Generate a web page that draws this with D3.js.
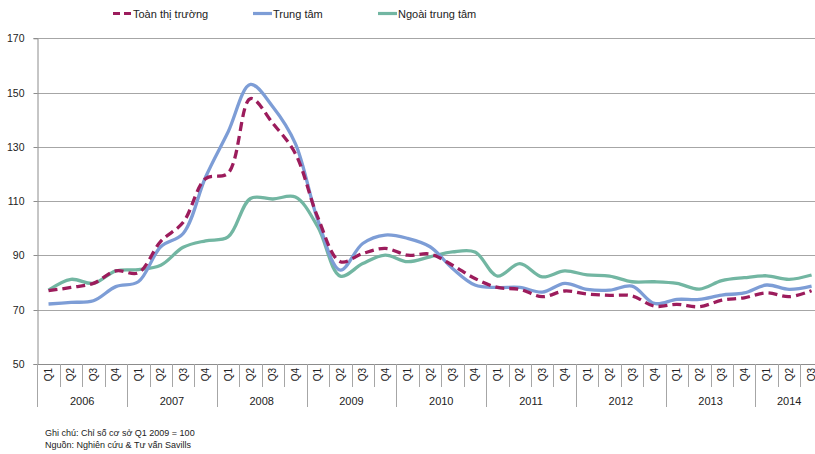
<!DOCTYPE html>
<html>
<head>
<meta charset="utf-8">
<script src="https://cdn.jsdelivr.net/npm/d3@7"></script>
<style>
  body { margin: 0; background: #fff; }
  text { font-family: "Liberation Sans", Arial, sans-serif; fill: #222; }
</style>
</head>
<body>
<svg width="815" height="454"></svg>
<script>
// years and quarters on the x axis
var years = ['2006', '2007', '2008', '2009', '2010', '2011', '2012', '2013', '2014'];
var quarters = ['Q1', 'Q2', 'Q3', 'Q4'];
var yTicks = [50, 70, 90, 110, 130, 150, 170];

// index values, Q1 2006 .. Q3 2014
var toanThiTruong = [77, 78.2, 79.7, 84.3, 83.6, 95.2, 102.2, 118.3, 120.3, 147.8, 138.6, 127.5,
  104, 87.7, 90.7, 92.6, 90.1, 90.5, 86.4, 81.5, 78.2, 77.5, 74.8, 76.9, 75.8, 75.3, 75.1,
  71.3, 72, 71.1, 73.5, 74.4, 76.2, 74.8, 77];
var trungTam = [72.1, 72.7, 73.3, 78.5, 80.3, 93.2, 98.1, 118.9, 135.5, 153, 144.7, 131.2,
  103, 84.6, 94.4, 97.5, 96.3, 93.2, 85.2, 79.1, 78.2, 78.2, 76.5, 79.7, 77.5, 77.2, 78.7,
  72.3, 73.8, 73.8, 75.4, 76.2, 79.1, 77.5, 78.7];
var ngoaiTrungTam = [77.2, 81.2, 79.7, 84.3, 84.8, 86.4, 93, 95.4, 96.8, 111, 110.8, 111.5,
  100.5, 82.4, 87, 90.1, 87.7, 89.5, 91.3, 91.3, 82.4, 87, 82.1, 84.3, 82.8, 82.4, 80.3,
  80.3, 79.7, 77.6, 80.7, 81.8, 82.5, 81.2, 82.8];

var seriesNames = ['Toàn thị trường', 'Trung tâm', 'Ngoài trung tâm'];
var seriesColors = ['#9c1c5c', '#7d9dd6', '#72b6a2'];

// build category keys
var keys = [];
years.forEach(function (y) {
  quarters.forEach(function (q) { keys.push(y + '-' + q); });
});
keys = keys.slice(0, toanThiTruong.length);

var plotLeft = 37.3, plotRight = 822.8, plotTop = 38.3, plotBottom = 364;
var svg = d3.select('svg');

var x = d3.scaleBand().domain(keys).range([plotLeft, plotRight]).padding(0);
var y = d3.scaleLinear().domain([50, 170]).range([plotBottom, plotTop]);

// gridlines
svg.append('g')
  .selectAll('line')
  .data(yTicks.slice(1))
  .enter()
  .append('line')
    .attr('x1', plotLeft)
    .attr('x2', plotRight)
    .attr('y1', d => Math.round(y(d)) + 0.5)
    .attr('y2', d => Math.round(y(d)) + 0.5)
    .attr('stroke', '#a6a6a6')
    .attr('stroke-width', 1);

// y axis
var yAxis = svg.append('g')
  .attr('transform', 'translate(' + (Math.round(plotLeft) + 0.5) + ',0)')
  .call(d3.axisLeft(y).tickValues(yTicks).tickSize(4).tickPadding(9));
yAxis.select('.domain').attr('stroke', '#8c8c8c');
yAxis.selectAll('.tick line').attr('stroke', '#8c8c8c');
yAxis.selectAll('text').attr('font-size', 10.5).style('font-family', '"Liberation Sans", Arial, sans-serif').attr('fill', '#222');
yAxis.selectAll('.tick').attr('transform', d => 'translate(0,' + (Math.round(y(d)) + 0.5) + ')');

// x axis baseline
svg.append('line')
  .attr('x1', plotLeft).attr('x2', plotRight)
  .attr('y1', Math.round(plotBottom) + 0.5).attr('y2', Math.round(plotBottom) + 0.5)
  .attr('stroke', '#8c8c8c');

// quarter separators and labels
var xg = svg.append('g');
xg.selectAll('.qsep')
  .data(keys)
  .enter()
  .append('line')
    .attr('x1', d => Math.round(x(d)) + 0.5)
    .attr('x2', d => Math.round(x(d)) + 0.5)
    .attr('y1', plotBottom)
    .attr('y2', d => d.endsWith('Q1') ? 407 : 387)
    .attr('stroke', '#a6a6a6');

xg.selectAll('.qlabel')
  .data(keys)
  .enter()
  .append('text')
    .attr('transform', d => 'translate(' + (x(d) + x.bandwidth() / 2 + 3.5) + ',368) rotate(-90)')
    .attr('text-anchor', 'end')
    .attr('font-size', 10)
    .text(d => d.split('-')[1]);

// year labels, centered over the quarters of each year
xg.selectAll('.ylabel')
  .data(years)
  .enter()
  .append('text')
    .attr('x', function (yr) {
      var ks = keys.filter(k => k.startsWith(yr));
      return (x(ks[0]) + x(ks[ks.length - 1]) + x.bandwidth()) / 2;
    })
    .attr('y', 405)
    .attr('text-anchor', 'middle')
    .attr('font-size', 11)
    .text(d => d);

// lines
var line = d3.line()
  .x((d, i) => x(keys[i]) + x.bandwidth() / 2)
  .y(d => y(d))
  .curve(d3.curveCatmullRom.alpha(0.5));

var allSeries = [toanThiTruong, trungTam, ngoaiTrungTam];
// draw green and blue first, dashed series on top
[2, 1, 0].forEach(function (s) {
  svg.append('path')
    .attr('d', line(allSeries[s]))
    .attr('fill', 'none')
    .attr('stroke', seriesColors[s])
    .attr('stroke-width', 3.3)
    .attr('stroke-linejoin', 'round')
    .attr('stroke-dasharray', s === 0 ? '9,5' : null);
});

// legend
var legendX = [113, 253, 378];
var legend = svg.append('g');
seriesNames.forEach(function (name, s) {
  legend.append('line')
    .attr('x1', legendX[s]).attr('x2', legendX[s] + 19)
    .attr('y1', 13.5).attr('y2', 13.5)
    .attr('stroke', seriesColors[s])
    .attr('stroke-width', 3.2)
    .attr('stroke-dasharray', s === 0 ? '7,4' : null);
  legend.append('text')
    .attr('x', legendX[s] + 20)
    .attr('y', 17.5)
    .attr('font-size', 11)
    .text(name);
});

// notes
svg.append('text').attr('x', 45).attr('y', 436).attr('font-size', 9)
  .text('Ghi chú: Chỉ số cơ sở Q1 2009 = 100');
svg.append('text').attr('x', 45).attr('y', 448).attr('font-size', 9)
  .text('Nguồn: Nghiên cứu & Tư vấn Savills');
</script>
</body>
</html>
